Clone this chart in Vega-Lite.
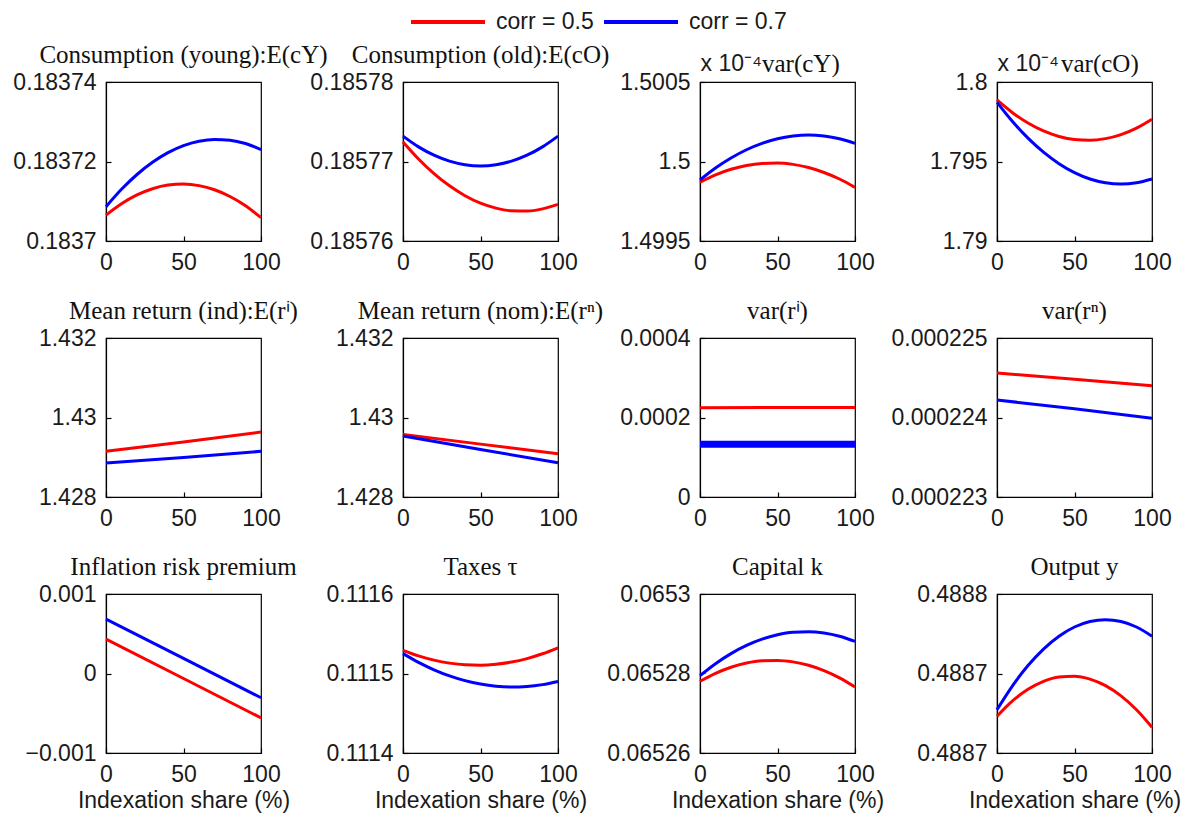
{
  "$schema": "https://vega.github.io/schema/vega-lite/v6.json",
  "autosize": "none",
  "padding": {"left": 106, "top": 82, "right": 1092, "bottom": 736},
  "background": "white",
  "datasets": {
    "d": [
      {"p":"cy","corr":"corr = 0.5","x":0,"v":0.18370652},{"p":"cy","corr":"corr = 0.5","x":10,"v":0.18370938},{"p":"cy","corr":"corr = 0.5","x":20,"v":0.18371159},{"p":"cy","corr":"corr = 0.5","x":30,"v":0.18371315},{"p":"cy","corr":"corr = 0.5","x":40,"v":0.18371406},{"p":"cy","corr":"corr = 0.5","x":50,"v":0.18371432},{"p":"cy","corr":"corr = 0.5","x":60,"v":0.18371393},{"p":"cy","corr":"corr = 0.5","x":70,"v":0.18371289},{"p":"cy","corr":"corr = 0.5","x":80,"v":0.1837112},{"p":"cy","corr":"corr = 0.5","x":90,"v":0.18370886},{"p":"cy","corr":"corr = 0.5","x":100,"v":0.18370587},
      {"p":"cy","corr":"corr = 0.7","x":0,"v":0.18370862},{"p":"cy","corr":"corr = 0.7","x":10,"v":0.183713},{"p":"cy","corr":"corr = 0.7","x":20,"v":0.18371673},{"p":"cy","corr":"corr = 0.7","x":30,"v":0.1837198},{"p":"cy","corr":"corr = 0.7","x":40,"v":0.18372222},{"p":"cy","corr":"corr = 0.7","x":50,"v":0.18372399},{"p":"cy","corr":"corr = 0.7","x":60,"v":0.1837251},{"p":"cy","corr":"corr = 0.7","x":70,"v":0.18372556},{"p":"cy","corr":"corr = 0.7","x":80,"v":0.18372537},{"p":"cy","corr":"corr = 0.7","x":90,"v":0.18372452},{"p":"cy","corr":"corr = 0.7","x":100,"v":0.183723},
      {"p":"co","corr":"corr = 0.5","x":0,"v":0.18577246},{"p":"co","corr":"corr = 0.5","x":10,"v":0.18577032},{"p":"co","corr":"corr = 0.5","x":20,"v":0.18576848},{"p":"co","corr":"corr = 0.5","x":30,"v":0.18576694},{"p":"co","corr":"corr = 0.5","x":40,"v":0.1857657},{"p":"co","corr":"corr = 0.5","x":50,"v":0.18576476},{"p":"co","corr":"corr = 0.5","x":60,"v":0.18576413},{"p":"co","corr":"corr = 0.5","x":70,"v":0.18576379},{"p":"co","corr":"corr = 0.5","x":80,"v":0.18576376},{"p":"co","corr":"corr = 0.5","x":90,"v":0.18576404},{"p":"co","corr":"corr = 0.5","x":100,"v":0.18576461},
      {"p":"co","corr":"corr = 0.7","x":0,"v":0.18577319},{"p":"co","corr":"corr = 0.7","x":10,"v":0.18577184},{"p":"co","corr":"corr = 0.7","x":20,"v":0.18577079},{"p":"co","corr":"corr = 0.7","x":30,"v":0.18577004},{"p":"co","corr":"corr = 0.7","x":40,"v":0.18576959},{"p":"co","corr":"corr = 0.7","x":50,"v":0.18576944},{"p":"co","corr":"corr = 0.7","x":60,"v":0.18576959},{"p":"co","corr":"corr = 0.7","x":70,"v":0.18577004},{"p":"co","corr":"corr = 0.7","x":80,"v":0.18577079},{"p":"co","corr":"corr = 0.7","x":90,"v":0.18577184},{"p":"co","corr":"corr = 0.7","x":100,"v":0.18577319},
      {"p":"vcy","corr":"corr = 0.5","x":0,"v":1.49987},{"p":"vcy","corr":"corr = 0.5","x":10,"v":1.499916},{"p":"vcy","corr":"corr = 0.5","x":20,"v":1.499951},{"p":"vcy","corr":"corr = 0.5","x":30,"v":1.499975},{"p":"vcy","corr":"corr = 0.5","x":40,"v":1.499988},{"p":"vcy","corr":"corr = 0.5","x":50,"v":1.499991},{"p":"vcy","corr":"corr = 0.5","x":60,"v":1.499982},{"p":"vcy","corr":"corr = 0.5","x":70,"v":1.499962},{"p":"vcy","corr":"corr = 0.5","x":80,"v":1.499931},{"p":"vcy","corr":"corr = 0.5","x":90,"v":1.49989},{"p":"vcy","corr":"corr = 0.5","x":100,"v":1.499837},
      {"p":"vcy","corr":"corr = 0.7","x":0,"v":1.499884},{"p":"vcy","corr":"corr = 0.7","x":10,"v":1.499959},{"p":"vcy","corr":"corr = 0.7","x":20,"v":1.500022},{"p":"vcy","corr":"corr = 0.7","x":30,"v":1.500074},{"p":"vcy","corr":"corr = 0.7","x":40,"v":1.500114},{"p":"vcy","corr":"corr = 0.7","x":50,"v":1.500143},{"p":"vcy","corr":"corr = 0.7","x":60,"v":1.50016},{"p":"vcy","corr":"corr = 0.7","x":70,"v":1.500166},{"p":"vcy","corr":"corr = 0.7","x":80,"v":1.50016},{"p":"vcy","corr":"corr = 0.7","x":90,"v":1.500143},{"p":"vcy","corr":"corr = 0.7","x":100,"v":1.500114},
      {"p":"vco","corr":"corr = 0.5","x":0,"v":1.79887},{"p":"vco","corr":"corr = 0.5","x":10,"v":1.79807},{"p":"vco","corr":"corr = 0.5","x":20,"v":1.79742},{"p":"vco","corr":"corr = 0.5","x":30,"v":1.796922},{"p":"vco","corr":"corr = 0.5","x":40,"v":1.796575},{"p":"vco","corr":"corr = 0.5","x":50,"v":1.796378},{"p":"vco","corr":"corr = 0.5","x":60,"v":1.796333},{"p":"vco","corr":"corr = 0.5","x":70,"v":1.796439},{"p":"vco","corr":"corr = 0.5","x":80,"v":1.796695},{"p":"vco","corr":"corr = 0.5","x":90,"v":1.797103},{"p":"vco","corr":"corr = 0.5","x":100,"v":1.79766},
      {"p":"vco","corr":"corr = 0.7","x":0,"v":1.79872},{"p":"vco","corr":"corr = 0.7","x":10,"v":1.797515},{"p":"vco","corr":"corr = 0.7","x":20,"v":1.796471},{"p":"vco","corr":"corr = 0.7","x":30,"v":1.795588},{"p":"vco","corr":"corr = 0.7","x":40,"v":1.794865},{"p":"vco","corr":"corr = 0.7","x":50,"v":1.794303},{"p":"vco","corr":"corr = 0.7","x":60,"v":1.793901},{"p":"vco","corr":"corr = 0.7","x":70,"v":1.79366},{"p":"vco","corr":"corr = 0.7","x":80,"v":1.79358},{"p":"vco","corr":"corr = 0.7","x":90,"v":1.79366},{"p":"vco","corr":"corr = 0.7","x":100,"v":1.7939},
      {"p":"ri","corr":"corr = 0.5","x":0,"v":1.429149},{"p":"ri","corr":"corr = 0.5","x":50,"v":1.429384},{"p":"ri","corr":"corr = 0.5","x":100,"v":1.429635},
      {"p":"ri","corr":"corr = 0.7","x":0,"v":1.428855},{"p":"ri","corr":"corr = 0.7","x":50,"v":1.428996},{"p":"ri","corr":"corr = 0.7","x":100,"v":1.429149},
      {"p":"rn","corr":"corr = 0.5","x":0,"v":1.429572},{"p":"rn","corr":"corr = 0.5","x":50,"v":1.42933},{"p":"rn","corr":"corr = 0.5","x":100,"v":1.429088},
      {"p":"rn","corr":"corr = 0.7","x":0,"v":1.429532},{"p":"rn","corr":"corr = 0.7","x":50,"v":1.429196},{"p":"rn","corr":"corr = 0.7","x":100,"v":1.42886},
      {"p":"vri","corr":"corr = 0.5","x":0,"v":0.0002248},{"p":"vri","corr":"corr = 0.5","x":50,"v":0.0002249},{"p":"vri","corr":"corr = 0.5","x":100,"v":0.000225},
      {"p":"vri","corr":"corr = 0.7","x":0,"v":0.0001325},{"p":"vri","corr":"corr = 0.7","x":50,"v":0.0001325},{"p":"vri","corr":"corr = 0.7","x":100,"v":0.0001325},
      {"p":"vrn","corr":"corr = 0.5","x":0,"v":0.00022456},{"p":"vrn","corr":"corr = 0.5","x":50,"v":0.00022448},{"p":"vrn","corr":"corr = 0.5","x":100,"v":0.0002244},
      {"p":"vrn","corr":"corr = 0.7","x":0,"v":0.00022422},{"p":"vrn","corr":"corr = 0.7","x":50,"v":0.00022411},{"p":"vrn","corr":"corr = 0.7","x":100,"v":0.00022399},
      {"p":"irp","corr":"corr = 0.5","x":0,"v":0.000432},{"p":"irp","corr":"corr = 0.5","x":50,"v":-0.000063},{"p":"irp","corr":"corr = 0.5","x":100,"v":-0.000558},
      {"p":"irp","corr":"corr = 0.7","x":0,"v":0.000684},{"p":"irp","corr":"corr = 0.7","x":50,"v":0.00019},{"p":"irp","corr":"corr = 0.7","x":100,"v":-0.000305},
      {"p":"tax","corr":"corr = 0.5","x":0,"v":0.1115292},{"p":"tax","corr":"corr = 0.5","x":10,"v":0.11152218},{"p":"tax","corr":"corr = 0.5","x":20,"v":0.1115168},{"p":"tax","corr":"corr = 0.5","x":30,"v":0.11151304},{"p":"tax","corr":"corr = 0.5","x":40,"v":0.11151092},{"p":"tax","corr":"corr = 0.5","x":50,"v":0.11151044},{"p":"tax","corr":"corr = 0.5","x":60,"v":0.11151158},{"p":"tax","corr":"corr = 0.5","x":70,"v":0.11151434},{"p":"tax","corr":"corr = 0.5","x":80,"v":0.11151876},{"p":"tax","corr":"corr = 0.5","x":90,"v":0.1115248},{"p":"tax","corr":"corr = 0.5","x":100,"v":0.1115324},
      {"p":"tax","corr":"corr = 0.7","x":0,"v":0.111525},{"p":"tax","corr":"corr = 0.7","x":10,"v":0.111514},{"p":"tax","corr":"corr = 0.7","x":20,"v":0.11150468},{"p":"tax","corr":"corr = 0.7","x":30,"v":0.111497},{"p":"tax","corr":"corr = 0.7","x":40,"v":0.111491},{"p":"tax","corr":"corr = 0.7","x":50,"v":0.11148668},{"p":"tax","corr":"corr = 0.7","x":60,"v":0.111484},{"p":"tax","corr":"corr = 0.7","x":70,"v":0.111483},{"p":"tax","corr":"corr = 0.7","x":80,"v":0.11148368},{"p":"tax","corr":"corr = 0.7","x":90,"v":0.111486},{"p":"tax","corr":"corr = 0.7","x":100,"v":0.11149},
      {"p":"cap","corr":"corr = 0.5","x":0,"v":0.06527804},{"p":"cap","corr":"corr = 0.5","x":10,"v":0.06528004},{"p":"cap","corr":"corr = 0.5","x":20,"v":0.06528158},{"p":"cap","corr":"corr = 0.5","x":30,"v":0.06528263},{"p":"cap","corr":"corr = 0.5","x":40,"v":0.0652832},{"p":"cap","corr":"corr = 0.5","x":50,"v":0.0652833},{"p":"cap","corr":"corr = 0.5","x":60,"v":0.06528292},{"p":"cap","corr":"corr = 0.5","x":70,"v":0.06528206},{"p":"cap","corr":"corr = 0.5","x":80,"v":0.06528072},{"p":"cap","corr":"corr = 0.5","x":90,"v":0.0652789},{"p":"cap","corr":"corr = 0.5","x":100,"v":0.0652766},
      {"p":"cap","corr":"corr = 0.7","x":0,"v":0.06527944},{"p":"cap","corr":"corr = 0.7","x":10,"v":0.06528246},{"p":"cap","corr":"corr = 0.7","x":20,"v":0.065285},{"p":"cap","corr":"corr = 0.7","x":30,"v":0.06528706},{"p":"cap","corr":"corr = 0.7","x":40,"v":0.06528864},{"p":"cap","corr":"corr = 0.7","x":50,"v":0.06528974},{"p":"cap","corr":"corr = 0.7","x":60,"v":0.06529037},{"p":"cap","corr":"corr = 0.7","x":70,"v":0.06529051},{"p":"cap","corr":"corr = 0.7","x":80,"v":0.06529018},{"p":"cap","corr":"corr = 0.7","x":90,"v":0.06528936},{"p":"cap","corr":"corr = 0.7","x":100,"v":0.06528807},
      {"p":"out","corr":"corr = 0.5","x":0,"v":0.48868767},{"p":"out","corr":"corr = 0.5","x":10,"v":0.48869925},{"p":"out","corr":"corr = 0.5","x":20,"v":0.48870807},{"p":"out","corr":"corr = 0.5","x":30,"v":0.48871413},{"p":"out","corr":"corr = 0.5","x":40,"v":0.48871744},{"p":"out","corr":"corr = 0.5","x":50,"v":0.488718},{"p":"out","corr":"corr = 0.5","x":60,"v":0.48871579},{"p":"out","corr":"corr = 0.5","x":70,"v":0.48871082},{"p":"out","corr":"corr = 0.5","x":80,"v":0.4887031},{"p":"out","corr":"corr = 0.5","x":90,"v":0.48869263},{"p":"out","corr":"corr = 0.5","x":100,"v":0.4886794},
      {"p":"out","corr":"corr = 0.7","x":0,"v":0.4886927},{"p":"out","corr":"corr = 0.7","x":10,"v":0.48871074},{"p":"out","corr":"corr = 0.7","x":20,"v":0.48872598},{"p":"out","corr":"corr = 0.7","x":30,"v":0.48873846},{"p":"out","corr":"corr = 0.7","x":40,"v":0.48874815},{"p":"out","corr":"corr = 0.7","x":50,"v":0.48875509},{"p":"out","corr":"corr = 0.7","x":60,"v":0.48875924},{"p":"out","corr":"corr = 0.7","x":70,"v":0.48876063},{"p":"out","corr":"corr = 0.7","x":80,"v":0.48875924},{"p":"out","corr":"corr = 0.7","x":90,"v":0.48875509},{"p":"out","corr":"corr = 0.7","x":100,"v":0.48874816}
    ]
  },
  "data": {"name": "d"},
  "columns": 4,
  "bounds": "flush",
  "spacing": {"row": 97, "column": 142},
  "concat": [
    {"width":155,"height":159,"title":{"text":"Consumption (young):E(cY)"},
     "transform":[{"filter":"datum.p == 'cy'"}],
     "mark":{"type":"line","strokeWidth":3,"interpolate":"monotone"},
     "encoding":{
       "x":{"field":"x","type":"quantitative","scale":{"domain":[0,100]},"axis":{"values":[0,50,100],"title":null}},
       "y":{"field":"v","type":"quantitative","scale":{"domain":[0.1837,0.18374],"zero":false},"axis":{"values":[0.1837,0.18372,0.18374],"format":".5~f","title":null}},
       "color":{"field":"corr","type":"nominal","scale":{"domain":["corr = 0.5","corr = 0.7"],"range":["#ff0000","#0000ff"]},"legend":{"title":null,"orient":"none","legendX":303,"legendY":-99,"direction":"horizontal"}}}},
    {"width":155,"height":159,"title":{"text":"Consumption (old):E(cO)"},
     "transform":[{"filter":"datum.p == 'co'"}],
     "mark":{"type":"line","strokeWidth":3,"interpolate":"monotone"},
     "encoding":{
       "x":{"field":"x","type":"quantitative","scale":{"domain":[0,100]},"axis":{"values":[0,50,100],"title":null}},
       "y":{"field":"v","type":"quantitative","scale":{"domain":[0.18576,0.18578],"zero":false},"axis":{"values":[0.18576,0.18577,0.18578],"format":".5~f","title":null}},
       "color":{"field":"corr","type":"nominal","scale":{"domain":["corr = 0.5","corr = 0.7"],"range":["#ff0000","#0000ff"]},"legend":{"title":null,"orient":"none","legendX":303,"legendY":-99,"direction":"horizontal"}}}},
    {"width":155,"height":159,"title":{"text":"var(cY)","anchor":"start","frame":"group","dx":62,"offset":-25},
     "transform":[{"filter":"datum.p == 'vcy'"}],
     "mark":{"type":"line","strokeWidth":3,"interpolate":"monotone"},
     "encoding":{
       "x":{"field":"x","type":"quantitative","scale":{"domain":[0,100]},"axis":{"values":[0,50,100],"title":null}},
       "y":{"field":"v","type":"quantitative","scale":{"domain":[1.4995,1.5005],"zero":false},"axis":{"values":[1.4995,1.5,1.5005],"format":".4~f","title":"x 10⁻⁴","titleAngle":0,"titleAlign":"left","titleBaseline":"alphabetic","titleX":0,"titleY":-12}},
       "color":{"field":"corr","type":"nominal","scale":{"domain":["corr = 0.5","corr = 0.7"],"range":["#ff0000","#0000ff"]},"legend":{"title":null,"orient":"none","legendX":303,"legendY":-99,"direction":"horizontal"}}}},
    {"width":155,"height":159,"title":{"text":"var(cO)","anchor":"start","frame":"group","dx":64,"offset":-25},
     "transform":[{"filter":"datum.p == 'vco'"}],
     "mark":{"type":"line","strokeWidth":3,"interpolate":"monotone"},
     "encoding":{
       "x":{"field":"x","type":"quantitative","scale":{"domain":[0,100]},"axis":{"values":[0,50,100],"title":null}},
       "y":{"field":"v","type":"quantitative","scale":{"domain":[1.79,1.8],"zero":false},"axis":{"values":[1.79,1.795,1.8],"format":".3~f","title":"x 10⁻⁴","titleAngle":0,"titleAlign":"left","titleBaseline":"alphabetic","titleX":0,"titleY":-12}},
       "color":{"field":"corr","type":"nominal","scale":{"domain":["corr = 0.5","corr = 0.7"],"range":["#ff0000","#0000ff"]},"legend":{"title":null,"orient":"none","legendX":303,"legendY":-99,"direction":"horizontal"}}}},
    {"width":155,"height":159,"title":{"text":"Mean return (ind):E(rⁱ)"},
     "transform":[{"filter":"datum.p == 'ri'"}],
     "mark":{"type":"line","strokeWidth":3},
     "encoding":{
       "x":{"field":"x","type":"quantitative","scale":{"domain":[0,100]},"axis":{"values":[0,50,100],"title":null}},
       "y":{"field":"v","type":"quantitative","scale":{"domain":[1.428,1.432],"zero":false},"axis":{"values":[1.428,1.43,1.432],"format":".3~f","title":null}},
       "color":{"field":"corr","type":"nominal","scale":{"domain":["corr = 0.5","corr = 0.7"],"range":["#ff0000","#0000ff"]},"legend":{"title":null,"orient":"none","legendX":303,"legendY":-99,"direction":"horizontal"}}}},
    {"width":155,"height":159,"title":{"text":"Mean return (nom):E(rⁿ)"},
     "transform":[{"filter":"datum.p == 'rn'"}],
     "mark":{"type":"line","strokeWidth":3},
     "encoding":{
       "x":{"field":"x","type":"quantitative","scale":{"domain":[0,100]},"axis":{"values":[0,50,100],"title":null}},
       "y":{"field":"v","type":"quantitative","scale":{"domain":[1.428,1.432],"zero":false},"axis":{"values":[1.428,1.43,1.432],"format":".3~f","title":null}},
       "color":{"field":"corr","type":"nominal","scale":{"domain":["corr = 0.5","corr = 0.7"],"range":["#ff0000","#0000ff"]},"legend":{"title":null,"orient":"none","legendX":303,"legendY":-99,"direction":"horizontal"}}}},
    {"width":155,"height":159,"title":{"text":"var(rⁱ)"},
     "transform":[{"filter":"datum.p == 'vri'"}],
     "encoding":{
       "x":{"field":"x","type":"quantitative","scale":{"domain":[0,100]},"axis":{"values":[0,50,100],"title":null}},
       "y":{"field":"v","type":"quantitative","scale":{"domain":[0,0.0004]},"axis":{"values":[0,0.0002,0.0004],"format":".4~f","title":null}},
       "color":{"field":"corr","type":"nominal","scale":{"domain":["corr = 0.5","corr = 0.7"],"range":["#ff0000","#0000ff"]},"legend":{"title":null,"orient":"none","legendX":303,"legendY":-99,"direction":"horizontal"}}},
     "layer":[
       {"transform":[{"filter":"datum.corr == 'corr = 0.5'"}],"mark":{"type":"line","strokeWidth":3}},
       {"transform":[{"filter":"datum.corr == 'corr = 0.7'"}],"mark":{"type":"line","strokeWidth":7}}
     ]},
    {"width":155,"height":159,"title":{"text":"var(rⁿ)"},
     "transform":[{"filter":"datum.p == 'vrn'"}],
     "mark":{"type":"line","strokeWidth":3},
     "encoding":{
       "x":{"field":"x","type":"quantitative","scale":{"domain":[0,100]},"axis":{"values":[0,50,100],"title":null}},
       "y":{"field":"v","type":"quantitative","scale":{"domain":[0.000223,0.000225],"zero":false},"axis":{"values":[0.000223,0.000224,0.000225],"format":".6~f","title":null}},
       "color":{"field":"corr","type":"nominal","scale":{"domain":["corr = 0.5","corr = 0.7"],"range":["#ff0000","#0000ff"]},"legend":{"title":null,"orient":"none","legendX":303,"legendY":-99,"direction":"horizontal"}}}},
    {"width":155,"height":159,"title":{"text":"Inflation risk premium"},
     "transform":[{"filter":"datum.p == 'irp'"}],
     "mark":{"type":"line","strokeWidth":3},
     "encoding":{
       "x":{"field":"x","type":"quantitative","scale":{"domain":[0,100]},"axis":{"values":[0,50,100],"title":"Indexation share (%)"}},
       "y":{"field":"v","type":"quantitative","scale":{"domain":[-0.001,0.001]},"axis":{"values":[-0.001,0,0.001],"format":".3~f","title":null}},
       "color":{"field":"corr","type":"nominal","scale":{"domain":["corr = 0.5","corr = 0.7"],"range":["#ff0000","#0000ff"]},"legend":{"title":null,"orient":"none","legendX":303,"legendY":-99,"direction":"horizontal"}}}},
    {"width":155,"height":159,"title":{"text":"Taxes τ"},
     "transform":[{"filter":"datum.p == 'tax'"}],
     "mark":{"type":"line","strokeWidth":3,"interpolate":"monotone"},
     "encoding":{
       "x":{"field":"x","type":"quantitative","scale":{"domain":[0,100]},"axis":{"values":[0,50,100],"title":"Indexation share (%)"}},
       "y":{"field":"v","type":"quantitative","scale":{"domain":[0.1114,0.1116],"zero":false},"axis":{"values":[0.1114,0.1115,0.1116],"format":".4~f","title":null}},
       "color":{"field":"corr","type":"nominal","scale":{"domain":["corr = 0.5","corr = 0.7"],"range":["#ff0000","#0000ff"]},"legend":{"title":null,"orient":"none","legendX":303,"legendY":-99,"direction":"horizontal"}}}},
    {"width":155,"height":159,"title":{"text":"Capital k"},
     "transform":[{"filter":"datum.p == 'cap'"}],
     "mark":{"type":"line","strokeWidth":3,"interpolate":"monotone"},
     "encoding":{
       "x":{"field":"x","type":"quantitative","scale":{"domain":[0,100]},"axis":{"values":[0,50,100],"title":"Indexation share (%)"}},
       "y":{"field":"v","type":"quantitative","scale":{"domain":[0.06526,0.0653],"zero":false},"axis":{"values":[0.06526,0.06528,0.0653],"format":".5~f","title":null}},
       "color":{"field":"corr","type":"nominal","scale":{"domain":["corr = 0.5","corr = 0.7"],"range":["#ff0000","#0000ff"]},"legend":{"title":null,"orient":"none","legendX":303,"legendY":-99,"direction":"horizontal"}}}},
    {"width":155,"height":159,"title":{"text":"Output y"},
     "transform":[{"filter":"datum.p == 'out'"}],
     "mark":{"type":"line","strokeWidth":3,"interpolate":"monotone"},
     "encoding":{
       "x":{"field":"x","type":"quantitative","scale":{"domain":[0,100]},"axis":{"values":[0,50,100],"title":"Indexation share (%)"}},
       "y":{"field":"v","type":"quantitative","scale":{"domain":[0.48866,0.48878],"zero":false},"axis":{"values":[0.48866,0.48872,0.48878],"format":".4f","title":null}},
       "color":{"field":"corr","type":"nominal","scale":{"domain":["corr = 0.5","corr = 0.7"],"range":["#ff0000","#0000ff"]},"legend":{"title":null,"orient":"none","legendX":303,"legendY":-99,"direction":"horizontal"}}}}
  ],
  "config": {
    "view": {"stroke": "#000", "strokeWidth": 1.2},
    "axis": {"grid": false, "domainColor": "#000", "domainWidth": 1.2, "ticks": true, "tickColor": "#000", "tickWidth": 1.2, "tickSize": -5, "labelFont": "Liberation Sans", "labelFontSize": 23, "labelColor": "#1a1a1a", "labelPadding": 15, "titleFont": "Liberation Sans", "titleFontSize": 23, "titleFontWeight": "normal", "titleColor": "#1a1a1a", "titlePadding": 3, "labelOverlap": false, "labelFlush": false},
    "axisY": {"labelPadding": 15},
    "title": {"font": "Liberation Serif", "fontSize": 25, "fontWeight": "normal", "color": "#111", "offset": 3, "baseline": "alphabetic", "frame": "group"},
    "legend": {"symbolType": "stroke", "symbolSize": 5476, "symbolStrokeWidth": 4, "labelFont": "Liberation Sans", "labelFontSize": 23, "labelColor": "#1a1a1a", "columnPadding": 2, "labelOffset": 9}
  }
}
